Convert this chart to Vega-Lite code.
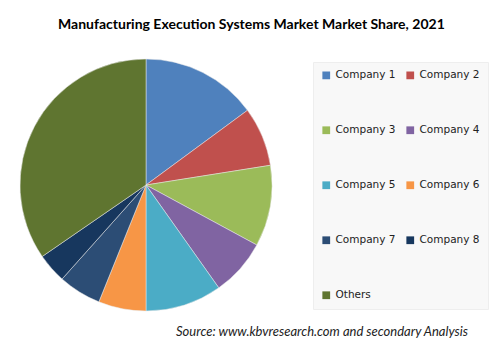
{
  "$schema": "https://vega.github.io/schema/vega-lite/v6.json",
  "background": "white",
  "padding": {"top": 18, "left": 19, "right": 0, "bottom": 0},
  "title": {
    "text": "Manufacturing Execution Systems Market Market Share, 2021",
    "font": "Lato",
    "fontSize": 14,
    "fontWeight": "bold",
    "color": "#000000",
    "anchor": "start",
    "dx": 39,
    "offset": 26
  },
  "config": {"view": {"stroke": null}},
  "vconcat": [
    {
      "width": 252,
      "height": 252,
      "title": {
        "text": "Source:  www.kbvresearch.com   and secondary Analysis",
        "orient": "bottom",
        "anchor": "start",
        "frame": "group",
        "dx": 156,
        "offset": 14,
        "font": "Lato",
        "fontSize": 13,
        "fontStyle": "italic",
        "fontWeight": "normal",
        "color": "#222222"
      },
      "data": {
        "values": [
          {"company": "Company 1", "share": 14.9},
          {"company": "Company 2", "share": 7.6},
          {"company": "Company 3", "share": 10.4},
          {"company": "Company 4", "share": 7.3},
          {"company": "Company 5", "share": 9.8},
          {"company": "Company 6", "share": 6.1},
          {"company": "Company 7", "share": 5.5},
          {"company": "Company 8", "share": 3.8},
          {"company": "Others", "share": 34.6}
        ]
      },
      "mark": {"type": "arc", "stroke": "#e8e8e8", "strokeWidth": 0.5},
      "encoding": {
        "theta": {"field": "share", "type": "quantitative", "stack": true},
        "color": {
          "field": "company",
          "type": "nominal",
          "scale": {
            "domain": ["Company 1", "Company 2", "Company 3", "Company 4", "Company 5", "Company 6", "Company 7", "Company 8", "Others"],
            "range": ["#4F81BD", "#C0504D", "#9BBB59", "#8064A2", "#4BACC6", "#F79646", "#2C4D75", "#17375E", "#5F7530"]
          },
          "legend": {
            "title": null,
            "orient": "none",
            "direction": "horizontal",
            "legendX": 293,
            "legendY": 3,
            "columns": 2,
            "columnPadding": 9,
            "rowPadding": 44,
            "padding": 8,
            "symbolType": "square",
            "symbolSize": 60,
            "symbolStrokeWidth": 0,
            "labelFont": "DejaVu Sans",
            "labelFontSize": 10.5,
            "labelColor": "#222222",
            "labelOffset": 4,
            "fillColor": "#F8F8F8",
            "strokeColor": "#EEEEEE"
          }
        }
      }
    }
  ]
}
